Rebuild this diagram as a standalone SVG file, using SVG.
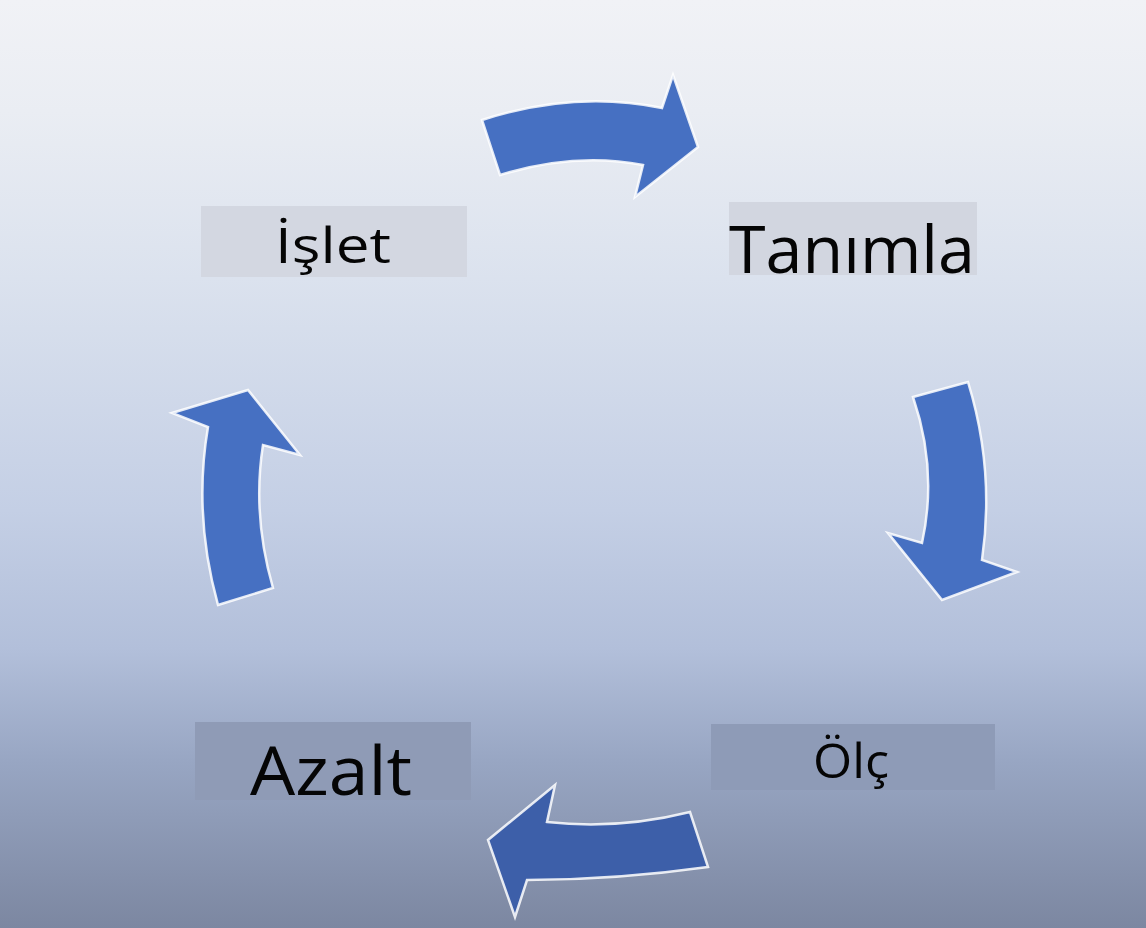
<svg xmlns="http://www.w3.org/2000/svg" width="1146" height="928" viewBox="0 0 1146 928">
<defs>
<linearGradient id="bg" x1="0" y1="0" x2="0" y2="1">
<stop offset="0" stop-color="#f1f2f6"/>
<stop offset="0.12" stop-color="#eaedf3"/>
<stop offset="0.3" stop-color="#dbe2ee"/>
<stop offset="0.55" stop-color="#c4cfe5"/>
<stop offset="0.7" stop-color="#b2bfda"/>
<stop offset="0.82" stop-color="#98a6c3"/>
<stop offset="1" stop-color="#7c87a1"/>
</linearGradient>
<style>
.arrow{fill:#4670c2;stroke:#ffffff;stroke-opacity:0.85;stroke-width:2.5;stroke-linejoin:miter}
.dark{fill:#3d5fa9}
.lbl{font-family:"Open Sans","Noto Sans","DejaVu Sans",sans-serif;font-weight:500;fill:#050505}
</style>
</defs>
<rect width="1146" height="928" fill="url(#bg)"/>
<g id="connectors">
<path id="arrow-top" class="arrow" d="M482,120 Q575,90 662,108 L673,75 L698,147 L635,197 L643,165 Q575,152 500,175 Z"/>
<path id="arrow-right" class="arrow" d="M913,397 L968,382 Q995,470 982,560 L1017,572 L942,600 L888,533 L922,543 Q938,470 913,397 Z"/>
<path id="arrow-bottom" class="arrow dark" d="M690,812 Q618,830 547,822 L555,785 L488,840 L515,917 L527,880 Q615,880 708,867 Z"/>
<path id="arrow-left" class="arrow" d="M218,605 L273,588 Q252,515 263,445 L300,455 L248,390 L172,413 L208,427 Q193,515 218,605 Z"/>
</g>
<g id="node-islet">
<rect x="201" y="206" width="266" height="71" fill="#d3d7e1"/>
<text class="lbl" x="275" y="263" font-size="50" textLength="116" lengthAdjust="spacingAndGlyphs">İşlet</text>
</g>
<g id="node-tanimla">
<rect x="729" y="202" width="248" height="73" fill="#d2d6e0"/>
<text class="lbl" x="729" y="273" font-size="66" textLength="246" lengthAdjust="spacingAndGlyphs">Tanımla</text>
</g>
<g id="node-olc">
<rect x="711" y="724" width="284" height="66" fill="#8e9bb7"/>
<text class="lbl" x="813" y="778" font-size="47" textLength="76" lengthAdjust="spacingAndGlyphs">Ölç</text>
</g>
<g id="node-azalt">
<rect x="195" y="722" width="276" height="78" fill="#8f9bb6"/>
<text class="lbl" x="250" y="795" font-size="68" textLength="162" lengthAdjust="spacingAndGlyphs">Azalt</text>
</g>
</svg>
